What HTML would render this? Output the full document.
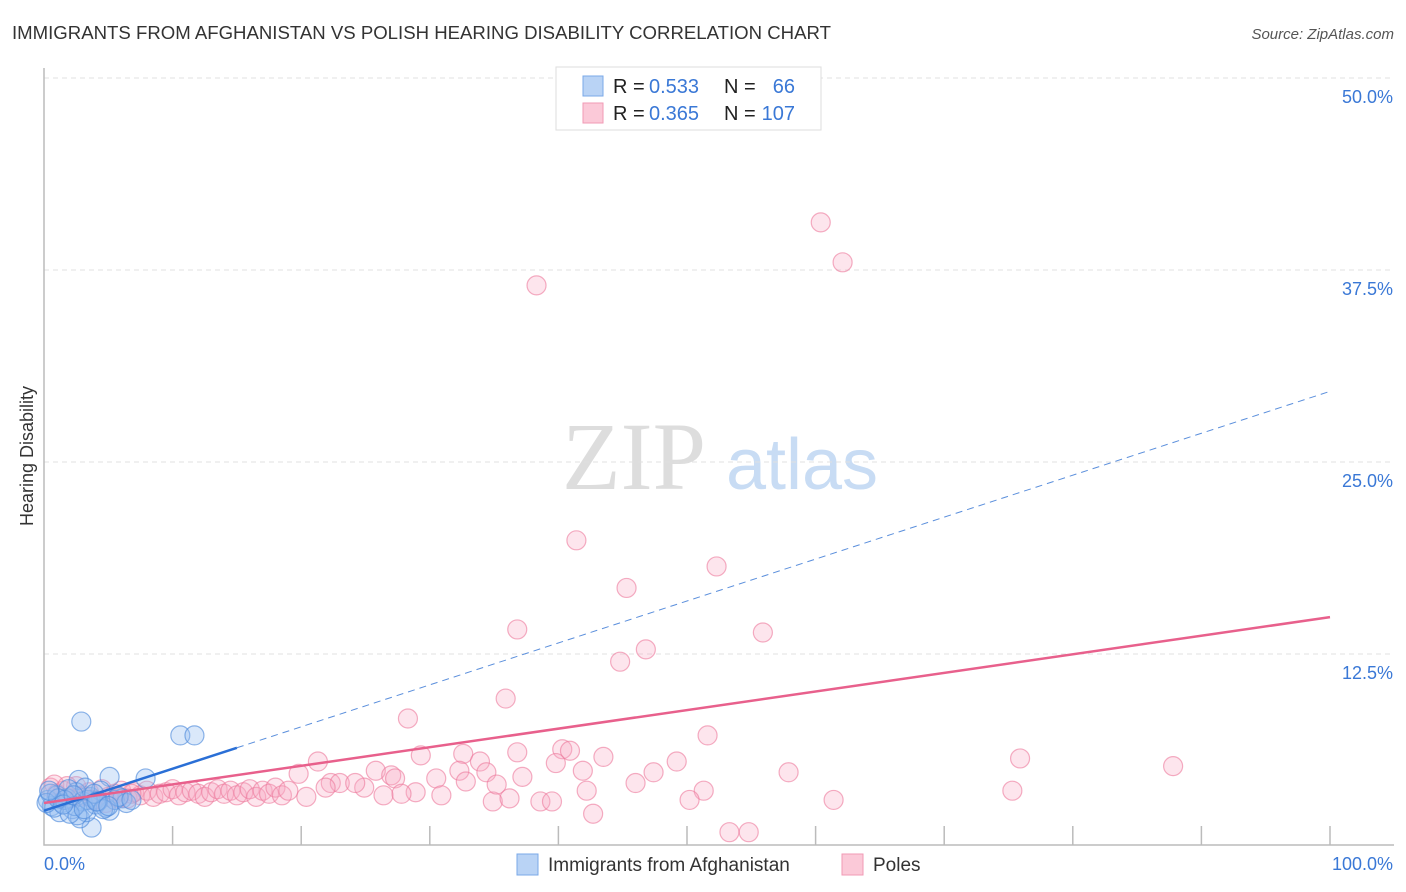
<!DOCTYPE html>
<html><head><meta charset="utf-8"><style>
body{margin:0;background:#fff;font-family:"Liberation Sans",sans-serif}
svg{display:block}
</style></head><body>
<svg id="chart" width="1406" height="892">
<text x="12" y="39" font-size="18.6" fill="#333">IMMIGRANTS FROM AFGHANISTAN VS POLISH HEARING DISABILITY CORRELATION CHART</text>
<text x="1394" y="39" font-size="15" fill="#555" text-anchor="end" font-style="italic">Source: ZipAtlas.com</text>
<text x="0" y="0" transform="translate(33,456) rotate(-90)" font-size="18" fill="#333" text-anchor="middle">Hearing Disability</text>
<g><text x="634" y="489" font-size="96" fill="#ddd" font-family="Liberation Serif,serif" text-anchor="middle">ZIP</text><text x="802" y="489" font-size="72" fill="#c8dcf4" text-anchor="middle">atlas</text></g>
<g id="grid"></g><g id="axes"></g><g id="pts"></g><g id="lines"></g>
<g>
<rect x="556" y="67" width="265" height="63" fill="#fff" stroke="#ddd"/>
<rect x="583" y="76" width="20" height="20" fill="#b9d3f5" stroke="#7aa8e8"/>
<rect x="583" y="103" width="20" height="20" fill="#fbc9d8" stroke="#f09ab5"/>
<text x="613" y="93" font-size="20" fill="#222">R =</text><text x="649" y="93" font-size="20" fill="#3a78d6">0.533</text>
<text x="724" y="93" font-size="20" fill="#222">N =</text><text x="795" y="93" font-size="20" fill="#3a78d6" text-anchor="end">66</text>
<text x="613" y="120" font-size="20" fill="#222">R =</text><text x="649" y="120" font-size="20" fill="#3a78d6">0.365</text>
<text x="724" y="120" font-size="20" fill="#222">N =</text><text x="795" y="120" font-size="20" fill="#3a78d6" text-anchor="end">107</text>
</g>
<g>
<rect x="517" y="854" width="21" height="21" fill="#b9d3f5" stroke="#7aa8e8"/>
<text x="548" y="871" font-size="19" fill="#333">Immigrants from Afghanistan</text>
<rect x="842" y="854" width="21" height="21" fill="#fbc9d8" stroke="#f09ab5"/>
<text x="873" y="871" font-size="19" fill="#333">Poles</text>
</g>
</svg>
<script>
const yTicks=[12.5,25,37.5,50];
const yTickLabels=["12.5%","25.0%","37.5%","50.0%"];
const blueX=[2.9,10.6,11.7,7.9,5.1,2.7,3.7,5.1,2.8,6.1,0.3,0.6,1.0,1.4,1.8,2.2,2.5,3.0,3.3,3.6,4.0,4.4,4.8,5.5,6.4,0.5,1.2,1.9,2.6,3.4,4.2,0.8,1.6,2.4,3.2,4.6,5.8,0.2,1.1,2.0,3.9,0.4,1.5,2.3,3.1,4.1,5.0,6.8];
const blueY=[8.1,7.2,7.2,4.4,4.5,4.3,1.2,2.3,1.8,3.1,3.0,2.6,3.3,2.8,3.1,2.4,3.5,2.9,2.2,3.2,2.7,3.6,2.5,3.0,2.8,3.4,2.2,3.7,2.0,3.0,2.9,2.5,3.0,2.6,3.8,2.4,3.2,2.8,3.1,2.1,3.4,3.6,2.7,3.3,2.4,2.9,2.6,3.0];
const pinkX=[60.4,62.1,38.3,41.4,52.3,45.3,36.8,55.9,46.8,44.8,35.9,28.3,51.6,75.9,87.8,21.3,29.3,32.6,36.8,40.3,40.9,43.5,39.8,33.9,49.2,47.4,41.9,37.2,34.4,32.3,57.9,46.0,42.2,51.3,75.3,61.4,50.2,38.6,39.5,34.9,36.2,42.7,53.3,54.8,35.2,32.8,30.5,30.9,28.9,25.8,27.0,27.3,24.9,26.4,27.8,19.8,20.4,22.3,23.0,24.2,21.9,
0.5,1.0,1.5,2.0,2.5,3.0,3.5,4.0,4.5,5.0,5.5,6.0,6.5,7.0,7.5,8.0,8.5,9.0,9.5,10.0,10.5,11.0,11.5,12.0,12.5,13.0,13.5,14.0,14.5,15.0,15.5,16.0,16.5,17.0,17.5,18.0,18.5,19.0,0.8,1.8,2.8,3.8,4.8,5.8,6.8];
const pinkY=[40.6,38.0,36.5,19.9,18.2,16.8,14.1,13.9,12.8,12.0,9.6,8.3,7.2,5.7,5.2,5.5,5.9,6.0,6.1,6.3,6.2,5.8,5.4,5.5,5.5,4.8,4.9,4.5,4.8,4.9,4.8,4.1,3.6,3.6,3.6,3.0,3.0,2.9,2.9,2.9,3.1,2.1,0.9,0.9,4.0,4.2,4.4,3.3,3.5,4.9,4.6,4.4,3.8,3.3,3.4,4.7,3.2,4.1,4.1,4.1,3.8,
3.8,3.4,3.6,3.1,3.9,3.3,3.5,3.0,3.7,3.2,3.4,3.6,3.1,3.5,3.3,3.6,3.2,3.4,3.5,3.7,3.3,3.5,3.6,3.4,3.2,3.5,3.7,3.4,3.6,3.3,3.5,3.7,3.2,3.6,3.4,3.8,3.3,3.6,4.0,3.9,3.2,3.0,2.8,3.1,3.4];
const blueTrend=[2.3,29.6];
const pinkTrend=[2.8,14.9];
const NS="http://www.w3.org/2000/svg";
const X=v=>44+v*12.86, Y=v=>846-v*15.36;
function mk(t,a,p){const e=document.createElementNS(NS,t);for(const k in a)e.setAttribute(k,a[k]);p.appendChild(e);return e;}
const grid=document.getElementById('grid'),axes=document.getElementById('axes'),pts=document.getElementById('pts'),lines=document.getElementById('lines');
yTicks.forEach((t,i)=>{
 const g=mk('line',{x1:44,x2:1394,y1:Y(t),y2:Y(t),stroke:'#e0e0e0','stroke-dasharray':'5,4'},grid);
 
 
 const l=mk('text',{x:1393,y:Y(t)+25,'font-size':18,fill:'#3a78d6','text-anchor':'end'},axes);
 l.textContent=yTickLabels[i];
 
 
});
const ax=mk('path',{d:'M44 68 V845 H1394',fill:'none',stroke:'#bbb','stroke-width':1.5},axes);


for(let i=1;i<=10;i++){const t=mk('line',{x1:X(i*10),x2:X(i*10),y1:826,y2:845,stroke:'#bbb','stroke-width':1.5},axes);
 
 }
const x0=mk('text',{x:44,y:870,'font-size':18,fill:'#3a78d6'},axes);x0.textContent='0.0%';


const x1=mk('text',{x:1393,y:870,'font-size':18,fill:'#3a78d6','text-anchor':'end'},axes);x1.textContent='100.0%';


pinkX.forEach((v,i)=>{const c=mk('circle',{cx:X(v),cy:Y(pinkY[i]),r:9.5,fill:'rgba(248,170,195,0.3)',stroke:'rgba(236,120,155,0.6)','stroke-width':1.2},pts);
 
 });
blueX.forEach((v,i)=>{const c=mk('circle',{cx:X(v),cy:Y(blueY[i]),r:9.5,fill:'rgba(150,190,240,0.35)',stroke:'rgba(80,140,220,0.65)','stroke-width':1.2},pts);
 
 });
const by=x=>blueTrend[0]+(blueTrend[1]-blueTrend[0])*x/100;
const b1=mk('line',{x1:X(0),y1:Y(by(0)),x2:X(15),y2:Y(by(15)),stroke:'#2a6fd6','stroke-width':2.5},lines);


const b2=mk('line',{x1:X(15),y1:Y(by(15)),x2:X(100),y2:Y(by(100)),stroke:'#5b8fdc','stroke-width':1,'stroke-dasharray':'7,5'},lines);


const p1=mk('line',{x1:X(0),y1:Y(pinkTrend[0]),x2:X(100),y2:Y(pinkTrend[1]),stroke:'#e8608c','stroke-width':2.5},lines);


</script>
</body></html>
